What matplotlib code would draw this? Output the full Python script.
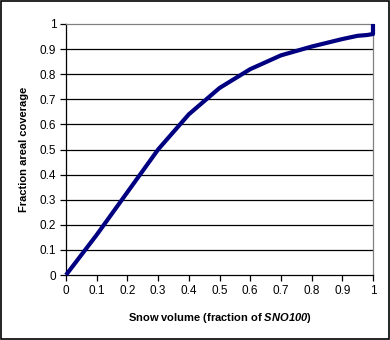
import matplotlib
matplotlib.use('Agg')
import matplotlib.pyplot as plt

plt.rcParams['font.family'] = ['Liberation Sans', 'DejaVu Sans']
plt.rcParams['mathtext.fontset'] = 'custom'
plt.rcParams['mathtext.rm'] = 'Liberation Sans'
plt.rcParams['mathtext.bf'] = 'Liberation Sans:bold'
plt.rcParams['mathtext.bfit'] = 'Liberation Sans:italic:bold'

# curve
snow = [0, 0.1, 0.2, 0.3, 0.4, 0.5, 0.6, 0.7, 0.8, 0.9, 0.95, 0.98, 1.0, 1.0]
cover = [0, 0.16, 0.33, 0.5, 0.64, 0.745, 0.82, 0.875, 0.91, 0.94, 0.953, 0.956, 0.96, 1.0]

xticks = [0, 0.1, 0.2, 0.3, 0.4, 0.5, 0.6, 0.7, 0.8, 0.9, 1]
yticks = [0, 0.1, 0.2, 0.3, 0.4, 0.5, 0.6, 0.7, 0.8, 0.9, 1]

fig = plt.figure(figsize=(3.9, 3.4), dpi=100)
ax = fig.add_axes([66/390, 1 - 275/340, 307/390, 251/340])

# frame around the whole figure
fig.patches.append(plt.Rectangle((0.002, 0.002), 0.995, 0.994, transform=fig.transFigure,
                                 fill=False, edgecolor='black', linewidth=1.2))

for y in yticks[1:-1]:
    ax.axhline(y, color='black', linewidth=0.9, zorder=1)

ax.plot(snow, cover, color='#000080', linewidth=3, solid_capstyle='butt', zorder=3, clip_on=False)

ax.set_xlim(0, 1)
ax.set_ylim(0, 1)
ax.set_xticks(xticks)
ax.set_yticks(yticks)
ax.set_xticklabels([f'{t:g}' for t in xticks])
ax.set_yticklabels([f'{t:g}' for t in yticks])
ax.tick_params(labelsize=8.5, length=4, width=0.9, direction='out', color='black', pad=3)

ax.spines['left'].set_color('black')
ax.spines['bottom'].set_color('black')
ax.spines['top'].set_color('#808080')
ax.spines['right'].set_color('#808080')
for s in ax.spines.values():
    s.set_linewidth(0.9)

ax.set_xlabel(r'Snow volume (fraction of $\mathbfit{SNO100}$)', fontsize=8, fontweight='bold', labelpad=10)
ax.set_ylabel('Fraction areal coverage', fontsize=8, fontweight='bold', labelpad=8)

fig.savefig('out.png', dpi=100)
